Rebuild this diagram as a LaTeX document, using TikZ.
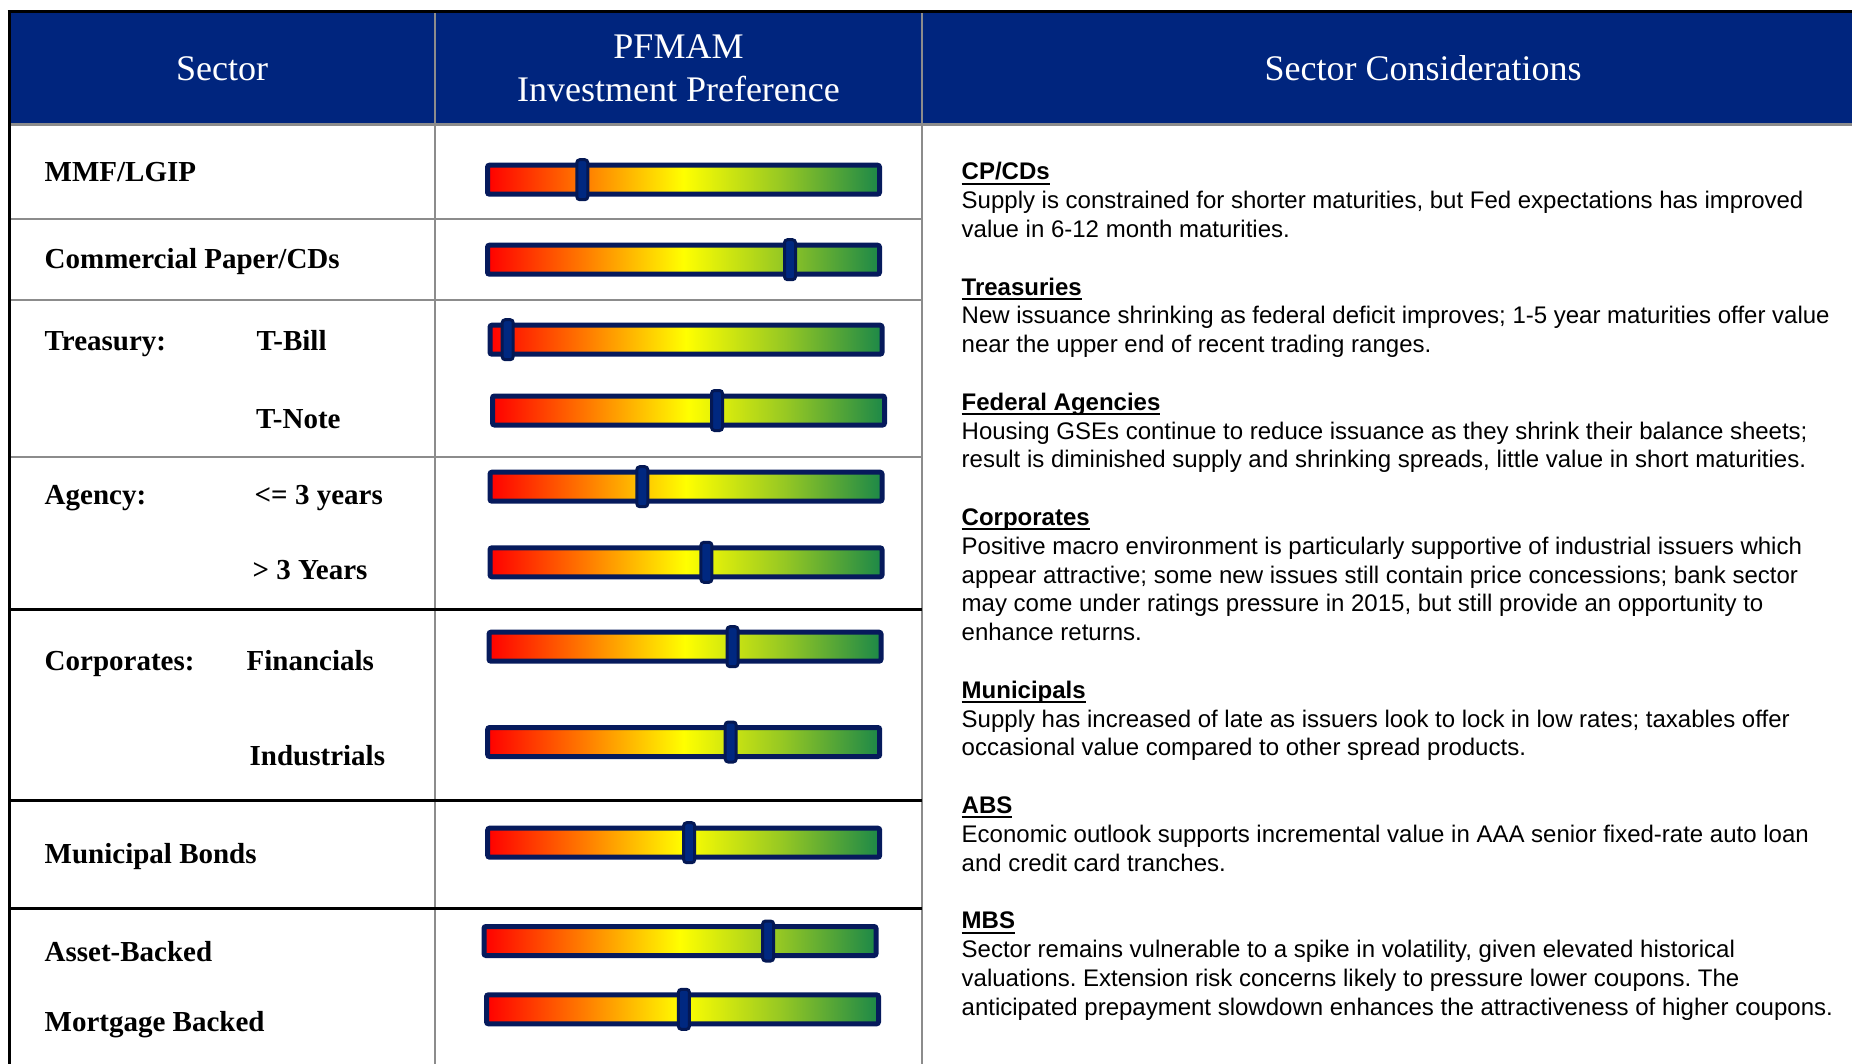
\documentclass[tikz,border=0pt]{standalone}
\usepackage{fontspec}
\setmainfont{Liberation Serif}
\setsansfont{Liberation Sans}
\frenchspacing

\definecolor{headblue}{RGB}{0,37,126}
\definecolor{gridgray}{RGB}{140,140,140}
\definecolor{barnavy}{RGB}{6,26,92}
\definecolor{knobfill}{RGB}{0,40,128}
\definecolor{knobedge}{RGB}{4,24,84}
\definecolor{barred}{RGB}{255,0,0}
\definecolor{barorange}{RGB}{255,125,0}
\definecolor{baryellow}{RGB}{255,255,0}
\definecolor{barlime}{RGB}{150,200,35}
\definecolor{bargreen}{RGB}{28,136,72}

%tikz maps the 25bp..75bp part of a shading onto the path
\pgfdeclarehorizontalshading{prefshade}{100bp}{color(0bp)=(barred); color(25bp)=(barred);
  color(37.5bp)=(barorange); color(50bp)=(baryellow); color(62.5bp)=(barlime);
  color(75bp)=(bargreen); color(100bp)=(bargreen)}

\newcommand{\ulhead}[1]{\setbox0\hbox{\textbf{#1}}\rlap{\rule[-5pt]{\wd0}{2pt}}\box0}

\begin{document}
\begin{tikzpicture}[x=1pt, y=-1pt,
    headtext/.style={text=white, align=center, font=\fontsize{36}{43}\selectfont},
    sectorlabel/.style={anchor=base west, inner sep=0pt, font=\fontsize{29}{34}\selectfont\bfseries},
    prefbar/.style={draw=barnavy, line width=5pt, shading=prefshade, rounded corners=2pt,
                    minimum width=392pt, minimum height=29pt, inner sep=0pt},
    knob/.style={draw=knobedge, fill=knobfill, line width=3pt, rounded corners=3pt,
                 minimum width=11pt, minimum height=40pt, inner sep=0pt},
    gridline/.style={draw=gridgray, line width=2.5pt},
    blackline/.style={draw=black, line width=3pt},
    notes/.style={anchor=north west, inner sep=0pt, align=left,
                  font=\sffamily\fontsize{24}{28.8}\selectfont}]
    \useasboundingbox (0,0) rectangle (1852,1064);

    %header band
    \fill[headblue] (9,11.5) rectangle (1852,124.5);
    \node[headtext] (hsector) at (222,68.5) {Sector};
    \node[headtext] (hpref) at (678.5,68.5) {PFMAM\\Investment Preference};
    \node[headtext] (hnotes) at (1423,68.5) {Sector Considerations};

    %table rules
    \draw[gridline] (9,124.5) -- (1852,124.5);
    \draw[gridline] (435,11.5) -- (435,1064);
    \draw[gridline] (922,11.5) -- (922,1064);
    \draw[gridline] (9,219) -- (922,219);
    \draw[gridline] (9,300) -- (922,300);
    \draw[gridline] (9,457) -- (922,457);
    \draw[blackline] (9,609.5) -- (922,609.5);
    \draw[blackline] (9,800) -- (922,800);
    \draw[blackline] (9,908) -- (922,908);
    \draw[blackline] (7.5,11.5) -- (1852,11.5);
    \draw[blackline] (9,11.5) -- (9,1064);

    %sectors
    \node[sectorlabel] (mmf) at (44.5,181.5) {MMF/LGIP};
    \node[sectorlabel] (cp) at (44.5,269) {Commercial Paper/CDs};
    \node[sectorlabel] (treas) at (44.5,350.5) {Treasury:};
    \node[sectorlabel] (tbill) at (256.5,350.5) {T-Bill};
    \node[sectorlabel] (tnote) at (256,428.5) {T-Note};
    \node[sectorlabel] (agency) at (44.5,504) {Agency:};
    \node[sectorlabel] (agshort) at (254.5,504) {<= 3 years};
    \node[sectorlabel] (aglong) at (252.5,579.5) {> 3 Years};
    \node[sectorlabel] (corp) at (44.5,670.5) {Corporates:};
    \node[sectorlabel] (fin) at (246.5,670.5) {Financials};
    \node[sectorlabel] (ind) at (249.5,765.5) {Industrials};
    \node[sectorlabel] (muni) at (44.5,863.5) {Municipal Bonds};
    \node[sectorlabel] (abs) at (44.5,961) {Asset-Backed};
    \node[sectorlabel] (mbs) at (44.5,1031) {Mortgage Backed};

    %preference bars and their sliders
    \node[prefbar] (mmfbar) at (683.5,179.7) {};
    \node[knob] (mmfknob) at (582.3,179.7) {};
    \node[prefbar] (cpbar) at (683.5,259.7) {};
    \node[knob] (cpknob) at (790,259.7) {};
    \node[prefbar] (tbillbar) at (686,339.7) {};
    \node[knob] (tbillknob) at (507.7,339.7) {};
    \node[prefbar] (tnotebar) at (688.5,410.5) {};
    \node[knob] (tnoteknob) at (717,410.5) {};
    \node[prefbar] (agshortbar) at (686,486.7) {};
    \node[knob] (agshortknob) at (642.3,486.7) {};
    \node[prefbar] (aglongbar) at (686,562.3) {};
    \node[knob] (aglongknob) at (706.4,562.3) {};
    \node[prefbar] (finbar) at (685,646.7) {};
    \node[knob] (finknob) at (732.5,646.7) {};
    \node[prefbar] (indbar) at (683.7,742) {};
    \node[knob] (indknob) at (730.7,742) {};
    \node[prefbar] (munibar) at (683.7,842.7) {};
    \node[knob] (muniknob) at (689.2,842.7) {};
    \node[prefbar] (absbar) at (680,941) {};
    \node[knob] (absknob) at (768.1,941) {};
    \node[prefbar] (mbsbar) at (682.5,1009.3) {};
    \node[knob] (mbsknob) at (683.9,1009.3) {};

    %sector considerations
    \node[notes] (notes) at (961.5,159.5) {\strut\ulhead{CP/CDs}\\
        Supply is constrained for shorter maturities, but Fed expectations has improved\\
        value in 6-12 month maturities.\\[28.8pt]
        \ulhead{Treasuries}\\
        New issuance shrinking as federal deficit improves; 1-5 year maturities offer value\\
        near the upper end of recent trading ranges.\\[28.8pt]
        \ulhead{Federal Agencies}\\
        Housing GSEs continue to reduce issuance as they shrink their balance sheets;\\
        result is diminished supply and shrinking spreads, little value in short maturities.\\[28.8pt]
        \ulhead{Corporates}\\
        Positive macro environment is particularly supportive of industrial issuers which\\
        appear attractive; some new issues still contain price concessions; bank sector\\
        may come under ratings pressure in 2015, but still provide an opportunity to\\
        enhance returns.\\[28.8pt]
        \ulhead{Municipals}\\
        Supply has increased of late as issuers look to lock in low rates; taxables offer\\
        occasional value compared to other spread products.\\[28.8pt]
        \ulhead{ABS}\\
        Economic outlook supports incremental value in AAA senior fixed-rate auto loan\\
        and credit card tranches.\\[28.8pt]
        \ulhead{MBS}\\
        Sector remains vulnerable to a spike in volatility, given elevated historical\\
        valuations. Extension risk concerns likely to pressure lower coupons. The\\
        anticipated prepayment slowdown enhances the attractiveness of higher coupons.};
\end{tikzpicture}
\end{document}
